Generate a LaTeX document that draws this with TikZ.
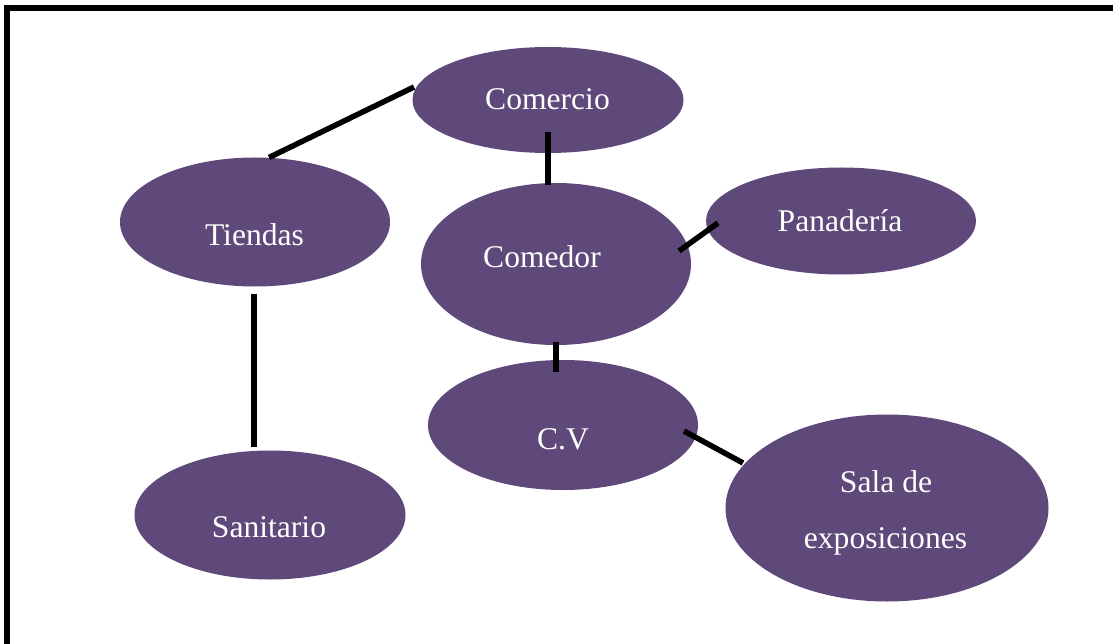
\documentclass[tikz,border=0pt]{standalone}
\usepackage{fontspec}
\setmainfont{Liberation Serif}
\usetikzlibrary{shapes.geometric,calc}
\definecolor{blobpurple}{HTML}{5F497A}
\tikzset{
  blob/.style={ellipse, fill=blobpurple, draw=none, inner sep=0pt, outer sep=0pt},
  lbl/.style={text=white, anchor=base, inner sep=0pt, font=\fontsize{31.6}{38}\selectfont},
  link/.style={line width=5.5pt, black},
  frame/.style={line width=6pt, black}
}
\begin{document}
\begin{tikzpicture}[x=1pt,y=-1pt]
\useasboundingbox (0,0) rectangle (1113,644);
\clip (0,0) rectangle (1113,644);
\fill[white] (0,0) rectangle (1113,644);
% frame (right and bottom edges lie outside the picture)
\coordinate (ftr) at (1130,8);
\coordinate (ftl) at (7,8);
\coordinate (fbl) at (7,660);
\draw[frame] (ftr) -- (ftl) -- (fbl);
% ellipses
\node[blob, minimum width=271, minimum height=106] (comercio) at (548,100) {};
\node[blob, minimum width=270, minimum height=129] (tiendas) at (255,222) {};
\node[blob, minimum width=270, minimum height=162] (comedor) at (556,264) {};
\node[blob, minimum width=270, minimum height=107] (panaderia) at (841,221) {};
\node[blob, minimum width=270, minimum height=130] (cv) at (563,425) {};
\node[blob, minimum width=323, minimum height=187] (sala) at (887,508) {};
\node[blob, minimum width=271, minimum height=129] (sanitario) at (270,515) {};
% labels
\node[lbl] (tcomercio) at (547.5,110) {Comercio};
\node[lbl] (ttiendas) at (254.5,246) {Tiendas};
\node[lbl] (tcomedor) at (542,268) {Comedor};
\node[lbl] (tpanaderia) at (840,232) {Panadería};
\node[lbl] (tcv) at (563,449) {C.V};
\node[lbl] (tsanitario) at (269,537) {Sanitario};
\node[lbl] (tsala1) at (886,492) {Sala de};
\node[lbl] (tsala2) at (885.5,548) {exposiciones};
% connectors
\draw[link] ($(comercio.center)+(-134,-13)$) -- ($(tiendas.north)+(14,0)$);
\draw[link] ($(comercio.center)+(0,32)$) -- ($(comedor.north)+(-8,2)$);
\draw[link] ($(comedor.center)+(123,-13)$) -- ($(panaderia.center)+(-123,2)$);
\draw[link] ($(comedor.south)+(0,-3)$) -- ($(cv.center)+(-7,-53)$);
\draw[link] ($(cv.center)+(121,6)$) -- ($(sala.center)+(-144,-45)$);
\draw[link] ($(tiendas.south)+(-1,7)$) -- ($(sanitario.north)+(-16,-4)$);
\end{tikzpicture}
\end{document}
